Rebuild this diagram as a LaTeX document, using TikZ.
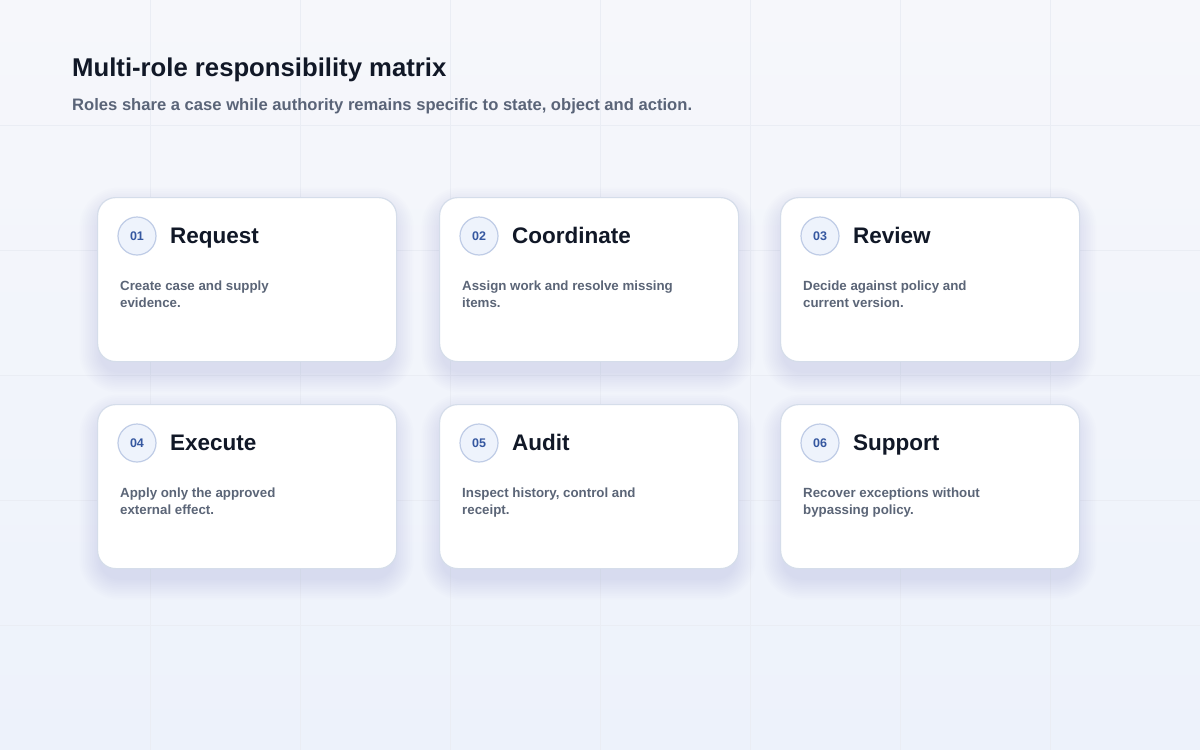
\documentclass[tikz,border=0pt]{standalone}
\usepackage{fontspec}
\setmainfont{Liberation Sans}
\usetikzlibrary{calc}
\definecolor{bgtop}{HTML}{F6F7FB}
\definecolor{bgbot}{HTML}{EDF2FB}
\definecolor{gridc}{HTML}{EAEDF4}
\definecolor{cardborder}{HTML}{D5DDEA}
\definecolor{shadowc}{HTML}{7A86A6}
\definecolor{circfill}{HTML}{EEF3FC}
\definecolor{circborder}{HTML}{BFCCE6}
\definecolor{numc}{HTML}{3557A0}
\definecolor{titlec}{HTML}{111827}
\definecolor{descc}{HTML}{5B6577}
\definecolor{subc}{HTML}{5A6478}
\tikzset{
  gridline/.style={draw=gridc, line width=1pt},
  cardbox/.style={draw=cardborder, fill=white, line width=1.2pt, rounded corners=18pt,
    minimum width=299pt, minimum height=164pt, inner sep=0pt, anchor=north west},
  numcirc/.style={circle, draw=circborder, fill=circfill, line width=1.2pt, minimum size=38pt,
    inner sep=0pt, text=numc, font={\fontsize{12.5}{15}\selectfont\bfseries}},
  roletitle/.style={anchor=base west, inner sep=0pt, text=titlec, font={\fontsize{22.5}{26}\selectfont\bfseries}},
  desc/.style={anchor=base west, inner sep=0pt, text=descc, font={\fontsize{13.3}{17}\selectfont\bfseries}},
  heading/.style={anchor=base west, inner sep=0pt, text=titlec, font={\fontsize{25.7}{30}\selectfont\bfseries}},
  subheading/.style={anchor=base west, inner sep=0pt, text=subc, font={\fontsize{16.6}{20}\selectfont\bfseries}},
}
\newcommand{\rolecard}[7]{%
  \foreach \i in {1,...,12}{%
    \pgfmathsetmacro{\s}{\i*1.8}%
    \fill[shadowc, opacity=0.012, rounded corners=18pt+\s pt]
      (#2-\s+4, #3+12-\s) rectangle (#2+299+\s-4, #3+164+10+\s);
  }
  \node[cardbox] (#1) at (#2,#3) {};
  \node[numcirc] (#1n) at ($(#1.north west)+(40,39)$) {#4};
  \node[roletitle] (#1t) at ($(#1.north west)+(73,46)$) {#5};
  \node[desc] (#1a) at ($(#1.north west)+(23,93)$) {#6};
  \node[desc] (#1b) at ($(#1.north west)+(23,110)$) {#7};
}
\begin{document}
\begin{tikzpicture}[x=1pt,y=-1pt]
\useasboundingbox (0,0) rectangle (1200,750);
\shade[top color=bgtop, bottom color=bgbot] (0,0) rectangle (1200,750);
\foreach \x in {150,300,...,1050} \draw[gridline] (\x,0) -- (\x,750);
\foreach \y in {125,250,...,625} \draw[gridline] (0,\y) -- (1200,\y);
\node[heading] (title) at (72,76) {Multi-role responsibility matrix};
\node[subheading] (subtitle) at (72,110) {Roles share a case while authority remains specific to state, object and action.};
\rolecard{c1}{97}{197}{01}{Request}{Create case and supply}{evidence.}
\rolecard{c2}{439}{197}{02}{Coordinate}{Assign work and resolve missing}{items.}
\rolecard{c3}{780}{197}{03}{Review}{Decide against policy and}{current version.}
\rolecard{c4}{97}{404}{04}{Execute}{Apply only the approved}{external effect.}
\rolecard{c5}{439}{404}{05}{Audit}{Inspect history, control and}{receipt.}
\rolecard{c6}{780}{404}{06}{Support}{Recover exceptions without}{bypassing policy.}
\end{tikzpicture}
\end{document}
